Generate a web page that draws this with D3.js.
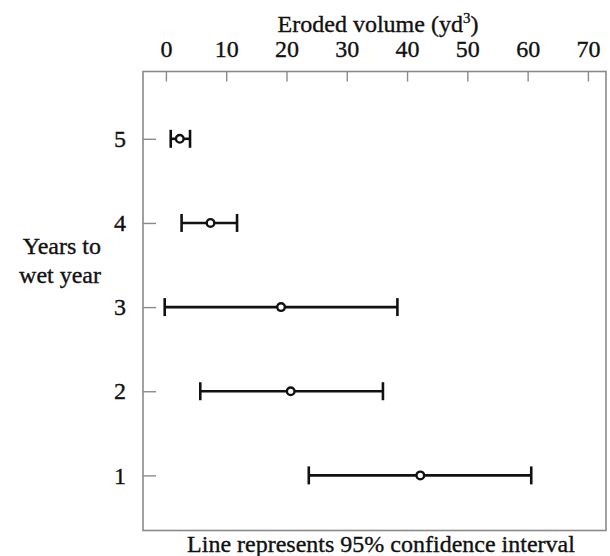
<!DOCTYPE html>
<html>
<head>
	<meta charset="utf-8">
	<title>Eroded volume by years to wet year</title>
	<script src="https://d3js.org/d3.v7.min.js"></script>
	<style type="text/css">
		*
		{
			margin:0;
			padding:0;
		}
		body
		{
			background:#fff;
			font-family: "Liberation Serif", "Times New Roman", serif;
		}
		svg text
		{
			fill:#111;
			stroke:#111;
			stroke-width:0.35px;
		}
	</style>
</head>
<body>
	<div id="chart"></div>
	<script>
		// years to wet year, estimate and 95% confidence interval (yd3)
		const years = [5, 4, 3, 2, 1];
		const means = [2.3, 7.4, 19.1, 20.7, 42.2];
		const lows = [0.8, 2.6, -0.2, 5.7, 23.7];
		const highs = [4.0, 11.8, 38.4, 36.0, 60.6];
		const xTicks = [0, 10, 20, 30, 40, 50, 60, 70];

		const width = 610;
		const height = 556;
		const box = {left:143, right:606, top:71.5, bottom:530.5};

		const svg = d3.select("#chart").append("svg")
			.attr("width", width)
			.attr("height", height);

		const xScale = d3.scaleLinear().domain([-3.8, 73]).range([box.left, box.right]);
		const yScale = d3.scaleLinear().domain([0.345, 5.8]).range([box.bottom, box.top]);

		// frame
		svg.append("rect")
			.attr("x", box.left)
			.attr("y", box.top)
			.attr("width", box.right - box.left)
			.attr("height", box.bottom - box.top)
			.style("fill", "none")
			.style("stroke", "#8a8a8a")
			.style("stroke-width", 1.6);

		// top axis, ticks point inward
		const xAxis = d3.axisTop(xScale).tickValues(xTicks).tickSize(-10).tickPadding(25);
		const gx = svg.append("g")
			.attr("transform", "translate(0," + box.top + ")")
			.call(xAxis);
		gx.select(".domain").remove();
		gx.selectAll("line").style("stroke", "#8a8a8a").style("stroke-width", 1.4);
		gx.selectAll("text")
			.attr("y", 57 - box.top)
			.attr("dy", null)
			.style("font-family", "Liberation Serif")
			.style("font-size", "24px")
			.style("fill", "#111");

		// left axis
		const yAxis = d3.axisLeft(yScale).tickValues(years).tickSize(-13).tickPadding(17).tickFormat(d3.format("d"));
		const gy = svg.append("g")
			.attr("transform", "translate(" + box.left + ",0)")
			.call(yAxis);
		gy.select(".domain").remove();
		gy.selectAll("line").style("stroke", "#8a8a8a").style("stroke-width", 1.4);
		gy.selectAll("text")
			.style("font-family", "Liberation Serif")
			.style("font-size", "24px")
			.style("fill", "#111");

		// error bars
		const bars = svg.append("g").selectAll("g")
			.data(years)
			.enter()
			.append("g");

		bars.append("line")
			.attr("x1", (d, i) => xScale(lows[i]))
			.attr("x2", (d, i) => xScale(highs[i]))
			.attr("y1", d => yScale(d))
			.attr("y2", d => yScale(d))
			.style("stroke", "#111")
			.style("stroke-width", 2.6);

		bars.selectAll(".cap")
			.data((d, i) => [[d, lows[i]], [d, highs[i]]])
			.enter()
			.append("line")
			.attr("class", "cap")
			.attr("x1", c => xScale(c[1]))
			.attr("x2", c => xScale(c[1]))
			.attr("y1", c => yScale(c[0]) - 9)
			.attr("y2", c => yScale(c[0]) + 9)
			.style("stroke", "#111")
			.style("stroke-width", 2.6);

		bars.append("circle")
			.attr("cx", (d, i) => xScale(means[i]))
			.attr("cy", d => yScale(d))
			.attr("r", 3.8)
			.style("fill", "#fff")
			.style("stroke", "#111")
			.style("stroke-width", 2.4);

		// titles
		const title = svg.append("text")
			.attr("x", 378)
			.attr("y", 32)
			.attr("text-anchor", "middle")
			.style("font-size", "24px");
		title.append("tspan").text("Eroded volume (yd");
		title.append("tspan").text("3").attr("dy", -9).style("font-size", "15px");
		title.append("tspan").text(")").attr("dy", 9);

		const yTitle = svg.append("text")
			.attr("text-anchor", "end")
			.style("font-size", "24px");
		yTitle.append("tspan").attr("x", 101).attr("y", 254).text("Years to");
		yTitle.append("tspan").attr("x", 101).attr("y", 283).text("wet year");

		svg.append("text")
			.attr("x", 381)
			.attr("y", 552)
			.attr("text-anchor", "middle")
			.style("font-size", "24px")
			.text("Line represents 95% confidence interval");
	</script>
</body>
</html>
